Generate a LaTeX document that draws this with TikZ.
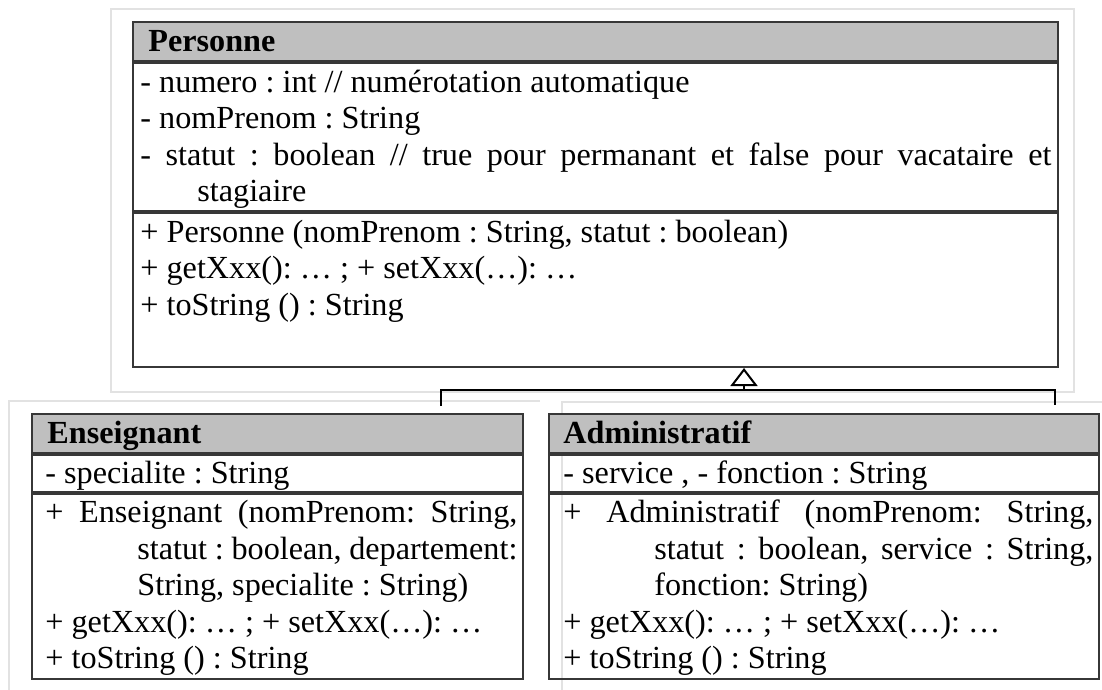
\documentclass[tikz,border=0pt]{standalone}
\usepackage{fontspec}
\setmainfont{Liberation Serif}
\usepackage{xcolor}
\usepackage{tikz}
\usetikzlibrary{arrows.meta,positioning}
\definecolor{headgray}{RGB}{191,191,191}
\definecolor{boxline}{RGB}{55,55,55}
\definecolor{framegray}{RGB}{226,226,226}
\newcommand{\lstrut}{\rule[-3.85pt]{0pt}{18.25pt}}
\newcommand{\umlfont}{\fontsize{16.1}{18.25}\selectfont\frenchspacing\tolerance 10000 \hyphenpenalty 10000 }
\tikzset{
  umlpart/.style={draw=boxline, line width=1pt, inner sep=0pt, minimum width=#1, anchor=north},
  umlhead/.style={umlpart=#1, fill=headgray, minimum height=19.5pt},
  umltext/.style={inner sep=0pt, anchor=north west, align=justify, font=\umlfont},
  umllink/.style={line width=1pt, black}
}

\begin{document}
\begin{tikzpicture}[x=0.5pt, y=0.5pt]
\useasboundingbox (0,0) rectangle (1102,-690);
\draw[framegray, line width=0.6pt] (111,-9) rectangle (1074,-392);
\draw[framegray, line width=0.6pt] (540,-401) -- (9,-401) -- (9,-690);
\draw[framegray, line width=0.6pt] (1102,-402) -- (562,-402) -- (562,-690);

\node[umlhead=462.5pt, anchor=north west] (pers-head) at (132,-21) {};
\node[umlpart=462.5pt, minimum height=74pt, below=0pt of pers-head] (pers-attr) {};
\node[umlpart=462.5pt, minimum height=77pt, below=0pt of pers-attr] (pers-ops) {};
\node[umltext] (pers-name) at ([xshift=8pt,yshift=-0.75pt]pers-head.north west) {\lstrut\textbf{Personne}};
\node[umltext, text width=455.5pt] (pers-attr-txt) at ([xshift=4pt,yshift=-0.5pt]pers-attr.north west) {\lstrut - numero : int // numérotation automatique\par
- nomPrenom : String\par
- statut : boolean // true pour permanant et false pour vacataire et \linebreak \hspace*{28.5pt}stagiaire};
\node[umltext, text width=455.5pt] (pers-ops-txt) at ([xshift=4pt,yshift=-0.5pt]pers-ops.north west) {\lstrut + Personne (nomPrenom : String, statut : boolean)\par
+ getXxx(): … ; + setXxx(…): …\par
+ toString () : String};

\node[umlhead=245.5pt, anchor=north west] (ens-head) at (31,-413) {};
\node[umlpart=245.5pt, minimum height=18.5pt, below=0pt of ens-head] (ens-attr) {};
\node[umlpart=245.5pt, minimum height=92.5pt, below=0pt of ens-attr] (ens-ops) {};
\node[umltext] (ens-name) at ([xshift=8pt,yshift=-0.5pt]ens-head.north west) {\lstrut\textbf{Enseignant}};
\node[umltext, text width=236pt] (ens-attr-txt) at ([xshift=7pt,yshift=-0.25pt]ens-attr.north west) {\lstrut - specialite : String};
\node[umltext, text width=236pt] (ens-ops-txt) at ([xshift=7pt,yshift=-0.25pt]ens-ops.north west) {\lstrut\hangindent=46pt\hangafter=1 + Enseignant (nomPrenom: String,\linebreak statut : boolean, departement:\linebreak String, specialite : String)\par
+ getXxx(): … ; + setXxx(…): …\par
+ toString () : String};

\node[umlhead=275pt, anchor=north west] (adm-head) at (548,-413) {};
\node[umlpart=275pt, minimum height=18.5pt, below=0pt of adm-head] (adm-attr) {};
\node[umlpart=275pt, minimum height=92.5pt, below=0pt of adm-attr] (adm-ops) {};
\node[umltext] (adm-name) at ([xshift=7.5pt,yshift=-0.5pt]adm-head.north west) {\lstrut\textbf{Administratif}};
\node[umltext, text width=265pt] (adm-attr-txt) at ([xshift=7.5pt,yshift=-0.25pt]adm-attr.north west) {\lstrut - service , - fonction : String};
\node[umltext, text width=265pt] (adm-ops-txt) at ([xshift=7.5pt,yshift=-0.25pt]adm-ops.north west) {\lstrut\hangindent=45.5pt\hangafter=1 + Administratif (nomPrenom: String,\linebreak statut : boolean, service : String,\linebreak fonction: String)\par
+ getXxx(): … ; + setXxx(…): …\par
+ toString () : String};

\coordinate (joint) at (744,-390);
\coordinate (ens-up) at (441,-406);
\coordinate (adm-up) at (1055,-405);
\draw[umllink] (ens-up) |- (joint) -| (adm-up);
\draw[umllink, -{Triangle[open, length=9pt, width=13.5pt]}] (joint) -- (joint |- pers-ops.south);
\end{tikzpicture}
\end{document}
